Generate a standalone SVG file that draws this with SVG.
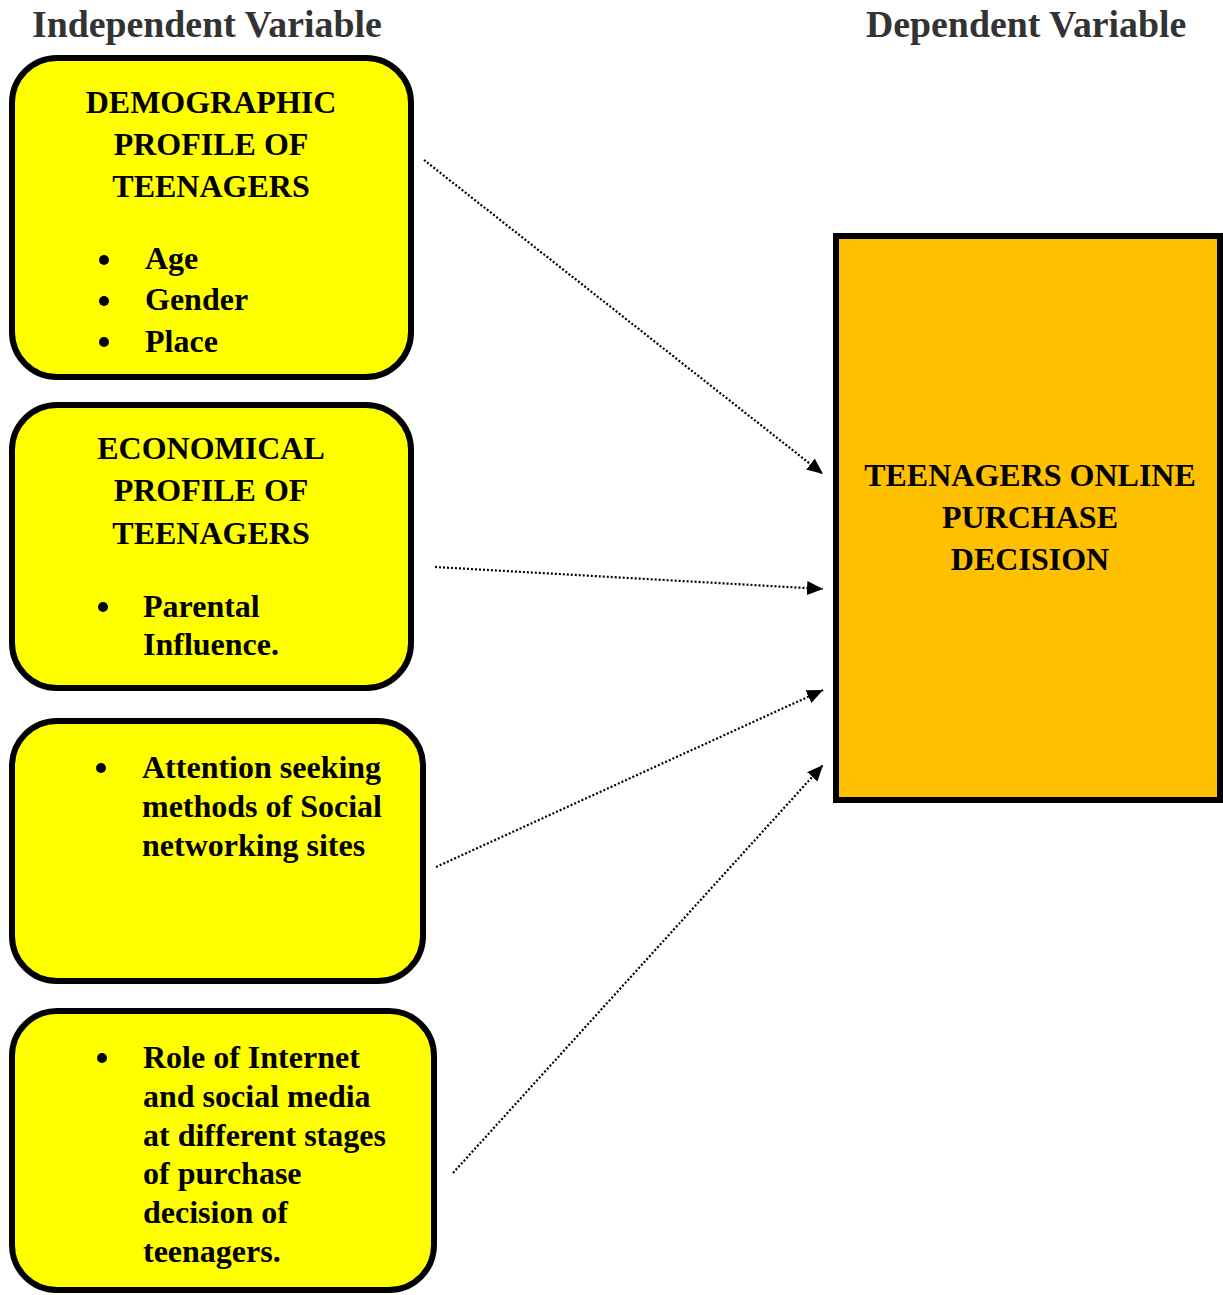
<svg xmlns="http://www.w3.org/2000/svg" width="1223" height="1295" viewBox="0 0 1223 1295">
<style>
text{font-family:"Liberation Serif","Times New Roman",serif;font-weight:bold;fill:#000}
.hdr{font-size:37.8px;fill:#333333}
.t{font-size:32px}
.c{text-anchor:middle}
.dot{fill:#000}
.ind{fill:#FFFF00;stroke:#000;stroke-width:6}
.dep{fill:#FFC000;stroke:#000;stroke-width:6}
.con{stroke:#000;stroke-width:2.2;stroke-dasharray:2 2;fill:none}
</style>
<defs>
<marker id="ah" markerUnits="userSpaceOnUse" markerWidth="18" markerHeight="14" refX="16" refY="7" orient="auto">
<path d="M0,0 L16,7 L0,14 Z" fill="#000"/>
</marker>
</defs>
<text class="hdr" x="32" y="37">Independent Variable</text>
<text class="hdr" x="866" y="37">Dependent Variable</text>

<g id="demographic">
<rect class="ind" x="12" y="58" width="399" height="319" rx="45" ry="45"/>
<text class="t c" x="211" y="113">DEMOGRAPHIC</text>
<text class="t c" x="211" y="155">PROFILE OF</text>
<text class="t c" x="211" y="197">TEENAGERS</text>
<circle class="dot" cx="104" cy="260" r="5"/><text class="t" x="145" y="269">Age</text>
<circle class="dot" cx="104" cy="301" r="5"/><text class="t" x="145" y="310">Gender</text>
<circle class="dot" cx="104" cy="342" r="5"/><text class="t" x="145" y="352">Place</text>
</g>

<g id="economical">
<rect class="ind" x="12" y="405" width="399" height="283" rx="45" ry="45"/>
<text class="t c" x="211" y="459">ECONOMICAL</text>
<text class="t c" x="211" y="501">PROFILE OF</text>
<text class="t c" x="211" y="544">TEENAGERS</text>
<circle class="dot" cx="103" cy="607" r="5"/><text class="t" x="143" y="617">Parental</text>
<text class="t" x="143" y="655">Influence.</text>
</g>

<g id="attention">
<rect class="ind" x="12" y="721" width="411" height="260" rx="45" ry="45"/>
<circle class="dot" cx="101" cy="768" r="5"/><text class="t" x="142" y="778">Attention seeking</text>
<text class="t" x="142" y="817">methods of Social</text>
<text class="t" x="142" y="856">networking sites</text>
</g>

<g id="internet">
<rect class="ind" x="12" y="1011" width="422" height="279" rx="45" ry="45"/>
<circle class="dot" cx="102" cy="1058" r="5"/><text class="t" x="143" y="1068">Role of Internet</text>
<text class="t" x="143" y="1107">and social media</text>
<text class="t" x="143" y="1146">at different stages</text>
<text class="t" x="143" y="1184">of purchase</text>
<text class="t" x="143" y="1223">decision of</text>
<text class="t" x="143" y="1262">teenagers.</text>
</g>

<g id="decision">
<rect class="dep" x="836" y="236" width="384" height="564"/>
<text class="t c" x="1030" y="486">TEENAGERS ONLINE</text>
<text class="t c" x="1030" y="528">PURCHASE</text>
<text class="t c" x="1030" y="570">DECISION</text>
</g>

<g id="connectors">
<line class="con" x1="424" y1="160" x2="823" y2="474" marker-end="url(#ah)"/>
<line class="con" x1="435" y1="567" x2="823" y2="589" marker-end="url(#ah)"/>
<line class="con" x1="436" y1="867" x2="823" y2="690" marker-end="url(#ah)"/>
<line class="con" x1="453" y1="1173" x2="823" y2="765" marker-end="url(#ah)"/>
</g>
</svg>
